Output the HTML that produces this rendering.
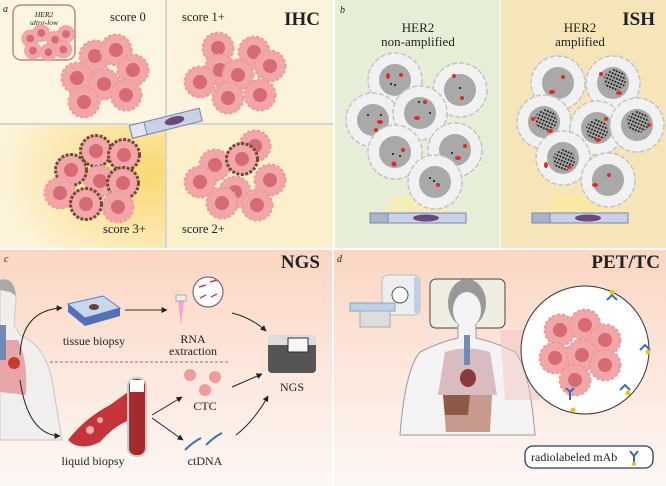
<!DOCTYPE html>
<html><head><meta charset="utf-8"><style>
html,body{margin:0;padding:0;background:#fff}
svg{display:block}
text{font-family:"Liberation Serif",serif;fill:#222}
</style></head><body>
<svg width="666" height="486" viewBox="0 0 666 486" xmlns="http://www.w3.org/2000/svg">
<defs>
<radialGradient id="y3" cx="0.9" cy="0.4" r="0.9"><stop offset="0" stop-color="#fbd874"/><stop offset="1" stop-color="#fcf3d8"/></radialGradient>
<linearGradient id="bot" x1="0" y1="0" x2="0" y2="1"><stop offset="0" stop-color="#fbd6c3"/><stop offset="1" stop-color="#fdf7f5"/></linearGradient>
<pattern id="dots" width="3" height="3.4" patternUnits="userSpaceOnUse" patternTransform="rotate(23)"><circle cx="1.2" cy="1.5" r="1" fill="#111"/></pattern>
<marker id="ah" viewBox="0 0 10 10" refX="9" refY="5" markerWidth="6" markerHeight="6" orient="auto"><path d="M0 0 L10 5 L0 10z" fill="#222"/></marker>
<g id="cell"><circle r="15.5" fill="#f3a6a8" stroke="#e99b9e" stroke-width="2" stroke-dasharray="3 2"/><circle r="7" fill="#d66a76"/></g>
<g id="cellb"><circle r="15.5" fill="#f3a6a8" stroke="#6d4a3a" stroke-width="3" stroke-dasharray="3 1.5"/><circle r="7" fill="#d66a76"/></g>
<g id="gcell"><circle r="27" fill="#f1f1f1" stroke="#c4c4c4" stroke-width="1.5" stroke-dasharray="5 2"/><circle r="16" fill="#a9a9a9"/></g>
<g id="amp"><circle r="11" fill="url(#dots)"/></g>
</defs>
<!-- panel a -->
<rect x="0" y="0" width="333" height="248" fill="#fcf5e2"/>
<rect x="0" y="124" width="166" height="124" fill="url(#y3)"/>
<rect x="166" y="124" width="167" height="124" fill="#fbefcc"/>
<rect x="166" y="0" width="167" height="124" fill="#fbf3dc"/>
<line x1="166" y1="0" x2="166" y2="248" stroke="#d5d5d5" stroke-width="2"/>
<line x1="0" y1="124" x2="333" y2="124" stroke="#d5d5d5" stroke-width="2"/>
<text x="3" y="12" font-size="10" font-style="italic">a</text>
<rect x="13" y="5" width="62" height="55" rx="8" fill="#fcf5e2" stroke="#b88a7c" stroke-width="1.5"/>
<text x="44" y="17" font-size="7.5" font-style="italic" text-anchor="middle">HER2</text>
<text x="44" y="25" font-size="7.5" font-style="italic" text-anchor="middle">ultra-low</text>
<g transform="scale(0.55)"><use href="#cell" x="55" y="70"/><use href="#cell" x="75" y="60"/><use href="#cell" x="100" y="72"/><use href="#cell" x="120" y="62"/><use href="#cell" x="60" y="92"/><use href="#cell" x="88" y="95"/><use href="#cell" x="115" y="90"/></g>
<text x="110" y="21" font-size="12.5">score 0</text>
<text x="182" y="21" font-size="12.5">score 1+</text>
<text x="320" y="25" font-size="19" font-weight="bold" text-anchor="end">IHC</text>
<g><use href="#cell" x="95" y="56"/><use href="#cell" x="116" y="50"/><use href="#cell" x="133" y="70"/><use href="#cell" x="77" y="78"/><use href="#cell" x="104" y="84"/><use href="#cell" x="126" y="95"/><use href="#cell" x="84" y="102"/></g>
<g><use href="#cell" x="218" y="48"/><use href="#cell" x="254" y="52"/><use href="#cell" x="270" y="66"/><use href="#cell" x="220" y="70"/><use href="#cell" x="200" y="82"/><use href="#cell" x="238" y="75"/><use href="#cell" x="228" y="98"/><use href="#cell" x="260" y="95"/></g>
<g><use href="#cellb" x="96" y="151"/><use href="#cellb" x="124" y="155"/><use href="#cell" x="100" y="181"/><use href="#cellb" x="71" y="170"/><use href="#cell" x="60" y="193"/><use href="#cellb" x="123" y="183"/><use href="#cell" x="118" y="207"/><use href="#cellb" x="86" y="204"/></g>
<g><use href="#cell" x="255" y="146"/><use href="#cell" x="215" y="165"/><use href="#cellb" x="242" y="159"/><use href="#cell" x="200" y="182"/><use href="#cell" x="270" y="180"/><use href="#cell" x="235" y="192"/><use href="#cell" x="222" y="203"/><use href="#cell" x="257" y="205"/></g>
<g transform="rotate(-14 165 124)"><rect x="130" y="117" width="72" height="13" fill="#c9d1e6" stroke="#7a86a8"/><rect x="130" y="117" width="15" height="13" fill="#e0e5f0" stroke="#7a86a8"/><ellipse cx="175" cy="123" rx="10" ry="4" fill="#6a4a78"/></g>
<text x="103" y="233" font-size="12.5">score 3+</text>
<text x="182" y="233" font-size="12.5">score 2+</text>
<!-- panel b -->
<rect x="335" y="0" width="331" height="248" fill="#e7eed7"/>
<rect x="500" y="0" width="166" height="248" fill="#f5e5b9"/>
<line x1="500" y1="0" x2="500" y2="248" stroke="#f8f4ea" stroke-width="2"/>
<text x="340" y="13" font-size="10" font-style="italic">b</text>
<text x="418" y="32" font-size="13" text-anchor="middle">HER2</text>
<text x="418" y="46" font-size="13" text-anchor="middle">non-amplified</text>
<text x="580" y="32" font-size="13" text-anchor="middle">HER2</text>
<text x="580" y="46" font-size="13" text-anchor="middle">amplified</text>
<text x="655" y="25" font-size="19" font-weight="bold" text-anchor="end">ISH</text>
<path d="M393 195 L443 195 L450 212 L385 212Z" fill="#f7ecb0" opacity=".8"/>
<path d="M555 195 L612 195 L618 212 L548 212Z" fill="#fbe9a0" opacity=".8"/>
<g><use href="#gcell" x="395" y="80"/><use href="#gcell" x="460" y="90"/><use href="#gcell" x="373" y="120"/><use href="#gcell" x="420" y="113"/><use href="#gcell" x="395" y="152"/><use href="#gcell" x="455" y="150"/><use href="#gcell" x="435" y="182"/></g>
<g fill="#e02a2a"><ellipse cx="388" cy="76" rx="2" ry="3"/><ellipse cx="401" cy="75" rx="2" ry="2"/><ellipse cx="462" cy="98" rx="2" ry="2"/><circle cx="454" cy="76" r="2"/><ellipse cx="380" cy="122" rx="3" ry="2"/><circle cx="376" cy="130" r="2"/><ellipse cx="417" cy="118" rx="3" ry="2"/><circle cx="425" cy="102" r="2"/><circle cx="403" cy="150" r="2"/><circle cx="394" cy="164" r="2.5"/><ellipse cx="458" cy="158" rx="3" ry="2"/><circle cx="465" cy="146" r="2"/><circle cx="438" cy="185" r="2"/></g>
<g fill="#111"><circle cx="391" cy="84" r="1"/><circle cx="395" cy="85" r="1"/><circle cx="460" cy="88" r="1"/><circle cx="368" cy="115" r="1"/><circle cx="381" cy="115" r="1"/><circle cx="419" cy="102" r="1"/><circle cx="430" cy="113" r="1"/><circle cx="393" cy="154" r="1"/><circle cx="400" cy="156" r="1"/><circle cx="452" cy="153" r="1"/><circle cx="430" cy="178" r="1"/><circle cx="434" cy="181" r="1"/></g>
<g><use href="#gcell" x="558" y="83"/><use href="#gcell" x="613" y="83"/><use href="#gcell" x="544" y="122"/><use href="#gcell" x="597" y="128"/><use href="#gcell" x="637" y="125"/><use href="#gcell" x="563" y="158"/><use href="#gcell" x="608" y="180"/></g>
<g><use href="#amp" x="615" y="80"/><use href="#amp" x="546" y="120"/><use href="#amp" x="597" y="130"/><use href="#amp" x="638" y="122"/><use href="#amp" x="564" y="160"/></g>
<g fill="#e02a2a"><ellipse cx="552" cy="92" rx="3" ry="2"/><circle cx="563" cy="77" r="2"/><circle cx="601" cy="74" r="2"/><ellipse cx="619" cy="93" rx="3" ry="2"/><circle cx="533" cy="119" r="2"/><ellipse cx="550" cy="131" rx="3" ry="2"/><circle cx="606" cy="119" r="2"/><ellipse cx="598" cy="140" rx="3" ry="2"/><circle cx="649" cy="125" r="2"/><ellipse cx="546" cy="165" rx="2" ry="3"/><circle cx="569" cy="167" r="2"/><circle cx="609" cy="175" r="2"/><ellipse cx="595" cy="185" rx="3" ry="2"/></g>
<g transform="translate(418,213)"><rect x="-48" y="0" width="96" height="10" fill="#c9d1e6" stroke="#7a86a8"/><rect x="-48" y="0" width="18" height="10" fill="#a9b3c9" stroke="#7a86a8"/><ellipse cx="8" cy="5" rx="13" ry="3.5" fill="#6a4a78"/></g>
<g transform="translate(580,213)"><rect x="-48" y="0" width="96" height="10" fill="#c9d1e6" stroke="#7a86a8"/><rect x="-48" y="0" width="18" height="10" fill="#a9b3c9" stroke="#7a86a8"/><ellipse cx="8" cy="5" rx="13" ry="3.5" fill="#6a4a78"/></g>
<!-- bottom panels -->
<rect x="0" y="250" width="332" height="236" fill="url(#bot)"/>
<rect x="334" y="250" width="332" height="236" fill="url(#bot)"/>
<!-- panel c -->
<text x="4" y="262" font-size="10" font-style="italic">c</text>
<text x="320" y="268" font-size="19" font-weight="bold" text-anchor="end">NGS</text>
<path d="M0 280 Q15 278 16 300 L14 325 L20 335 Q45 345 52 380 L62 440 L0 440Z" fill="#f1eeee" stroke="#c8c8c8"/>
<path d="M0 280 Q14 276 16 296 L10 292 L0 290Z" fill="#aaa"/>
<path d="M0 340 L18 340 Q28 360 26 395 L0 392Z" fill="#e8a6ab"/>
<circle cx="14" cy="363" r="6" fill="#c53c2e"/>
<rect x="0" y="325" width="6" height="35" fill="#6f8cb7"/>
<path d="M20 355 Q22 310 62 308" fill="none" stroke="#222" marker-end="url(#ah)"/>
<path d="M20 380 Q28 435 60 436" fill="none" stroke="#222" marker-end="url(#ah)"/>
<g transform="translate(68,296)"><path d="M0 8 L35 0 L52 12 L17 22Z" fill="#c7d7ee" stroke="#5d7fb8"/><path d="M17 22 L52 12 L52 20 L17 30 L0 16 L0 8Z" fill="#4d72b5"/><ellipse cx="26" cy="11" rx="5" ry="3" fill="#6b3e38"/></g>
<text x="94" y="345" font-size="12" text-anchor="middle">tissue biopsy</text>
<line x1="125" y1="310" x2="167" y2="310" stroke="#333" marker-end="url(#ah)"/>
<path d="M178 300 l6 0 l-3 25z" fill="#f7a3d0"/><rect x="176" y="295" width="10" height="6" fill="#eee" stroke="#aaa"/>
<circle cx="208" cy="292" r="15" fill="#fff" stroke="#555"/>
<g stroke="#c53c50" stroke-width="1.5"><line x1="199" y1="287" x2="206" y2="285"/><line x1="210" y1="282" x2="217" y2="280"/><line x1="200" y1="298" x2="206" y2="295"/><line x1="211" y1="297" x2="217" y2="294"/></g>
<text x="193" y="343" font-size="12" text-anchor="middle">RNA</text>
<text x="193" y="355" font-size="12" text-anchor="middle">extraction</text>
<path d="M232 313 Q252 318 266 331" fill="none" stroke="#222" marker-end="url(#ah)"/>
<line x1="50" y1="362" x2="228" y2="362" stroke="#777" stroke-dasharray="3 2"/>
<g transform="translate(268,335)"><rect x="0" y="0" width="48" height="38" rx="4" fill="#555"/><rect x="0" y="0" width="48" height="10" fill="#ddd"/><rect x="20" y="3" width="20" height="14" fill="#f4f6f8" stroke="#333"/></g>
<text x="292" y="391" font-size="12" text-anchor="middle">NGS</text>
<path d="M68 440 Q85 418 110 405 L128 392 L130 420 Q115 425 100 442 Q80 452 68 440Z" fill="#c4343a"/>
<g fill="#f2b0b0"><circle cx="90" cy="430" r="4"/><circle cx="100" cy="420" r="3"/></g>
<rect x="128" y="378" width="18" height="78" rx="8" fill="#a52a2a" stroke="#ccc" stroke-width="2"/>
<rect x="130" y="380" width="14" height="12" fill="#fff"/>
<text x="93" y="465" font-size="12" text-anchor="middle">liquid biopsy</text>
<g fill="#f09a9a"><circle cx="190" cy="375" r="6"/><circle cx="215" cy="377" r="6"/><circle cx="205" cy="390" r="6"/></g>
<text x="205" y="410" font-size="12" text-anchor="middle">CTC</text>
<path d="M152 415 L182 397" stroke="#222" marker-end="url(#ah)"/><path d="M152 418 L183 440" stroke="#222" marker-end="url(#ah)"/>
<g stroke="#3a6fb3" stroke-width="2"><path d="M185 450 q8 -8 16 -12"/><path d="M206 445 q8 -8 16 -12"/></g>
<text x="205" y="465" font-size="12" text-anchor="middle">ctDNA</text>
<path d="M232 387 L262 374" stroke="#222" marker-end="url(#ah)"/><path d="M236 435 Q255 420 268 396" fill="none" stroke="#222" marker-end="url(#ah)"/>
<!-- panel d -->
<text x="337" y="262" font-size="10" font-style="italic">d</text>
<text x="660" y="268" font-size="19" font-weight="bold" text-anchor="end">PET/TC</text>
<g transform="translate(350,275)"><rect x="32" y="0" width="38" height="40" rx="6" fill="#eee" stroke="#bbb"/><rect x="64" y="2" width="6" height="36" fill="#bcd0ec"/><circle cx="50" cy="20" r="8" fill="#fff" stroke="#555"/><rect x="0" y="28" width="45" height="8" fill="#bcd0ec" stroke="#8aa"/><rect x="10" y="36" width="30" height="16" fill="#ddd" stroke="#aaa"/></g>
<rect x="430" y="279" width="75" height="49" rx="6" fill="#efece2" stroke="#444"/>
<path d="M400 435 Q405 370 420 352 Q440 342 458 338 L458 325 L476 325 L476 338 Q495 342 515 352 Q530 370 535 435Z" fill="#f4f2f2" stroke="#999"/>
<ellipse cx="467" cy="303" rx="19" ry="24" fill="#999"/><ellipse cx="467" cy="310" rx="14" ry="18" fill="#f3f3f3"/>
<path d="M445 352 Q467 345 490 352 L497 395 L438 395Z" fill="#d9bcc2"/>
<rect x="464" y="335" width="6" height="30" fill="#6f8cb7"/>
<ellipse cx="468" cy="378" rx="8" ry="9" fill="#8a3a3a"/>
<path d="M443 395 L492 395 L490 432 L446 432Z" fill="#c89a8e"/>
<path d="M443 395 L470 395 L468 415 L445 415Z" fill="#8e5a48"/>
<path d="M500 330 L530 330 L540 400 L505 400Z" fill="#f0c2c0" opacity=".45"/>
<circle cx="585" cy="350" r="64" fill="#fff" stroke="#333"/>
<g><use href="#cell" x="560" y="330"/><use href="#cell" x="585" y="325"/><use href="#cell" x="605" y="340"/><use href="#cell" x="555" y="358"/><use href="#cell" x="582" y="355"/><use href="#cell" x="605" y="365"/><use href="#cell" x="575" y="380"/></g>
<g stroke="#3a6fb3" stroke-width="2" fill="none"><path d="M607 300 l5 -5 l5 5 M612 295 v-5"/><path d="M640 350 l5 -5 l5 5"/><path d="M620 390 l5 -5 l5 5"/><path d="M570 400 v-8 l-4 -4 M570 392 l4 -4"/></g>
<g fill="#e8c21a"><circle cx="612" cy="292" r="2.5"/><circle cx="648" cy="352" r="2.5"/><circle cx="628" cy="393" r="2.5"/><circle cx="573" cy="410" r="2.5"/></g>
<rect x="525" y="446" width="128" height="22" rx="8" fill="#fff" stroke="#2b3d5a" stroke-width="1.3"/>
<text x="531" y="461" font-size="12">radiolabeled mAb</text>
<path d="M630 451 l4 5 l4 -5 M634 456 v7" stroke="#3a6fb3" stroke-width="2" fill="none"/>
<circle cx="634" cy="464" r="2" fill="#e8c21a"/>
</svg>
</body></html>
